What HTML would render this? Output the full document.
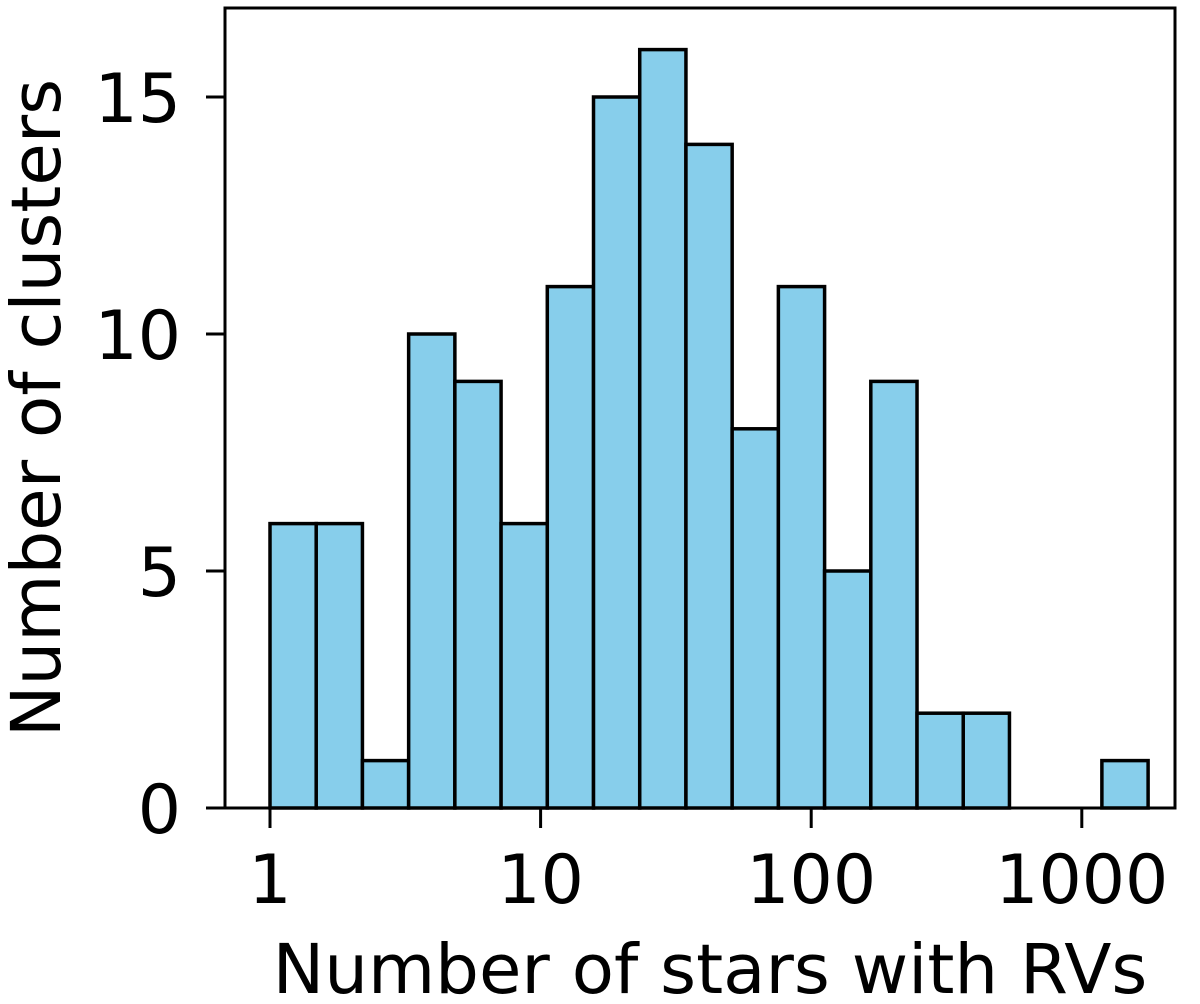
<!DOCTYPE html>
<html><head><meta charset="utf-8"><style>
html,body{margin:0;padding:0;background:#fff;}
svg text{font-family:"DejaVu Sans","Liberation Sans",sans-serif;fill:#000;}
</style></head><body>
<svg id="chart" width="1200" height="999" xmlns="http://www.w3.org/2000/svg">
<g id="bars"></g>
<g id="axes"></g>
</svg>
<script>
const counts = [6,6,1,10,9,6,11,15,16,14,8,11,5,9,2,2,0,0,1];
const binMin = 1;
const binMax = 1758;
const yTicks = [0,5,10,15];
const xTicks = [1,10,100,1000];
const xTickLabels = ["1","10","100","1000"];

const L=225,R=1175,T=8,B=808;
const xs = v => 270 + (Math.log10(v)-0)*270.6;
const ys = v => B - v*47.4;
const NS="http://www.w3.org/2000/svg";
function mk(tag,attrs,parent){const e=document.createElementNS(NS,tag);for(const k in attrs)e.setAttribute(k,attrs[k]);parent.appendChild(e);return e;}
const bars=document.getElementById('bars'), axes=document.getElementById('axes');
const n=counts.length, lmin=Math.log10(binMin), lmax=Math.log10(binMax);
counts.forEach((c,i)=>{
  if(c<=0) return;
  const e0=Math.pow(10,lmin+(lmax-lmin)*i/n), e1=Math.pow(10,lmin+(lmax-lmin)*(i+1)/n);
  const x0=xs(e0), x1=xs(e1);
  const r=mk('rect',{x:x0,y:ys(c),width:x1-x0,height:ys(0)-ys(c),fill:'#87ceeb',stroke:'#000','stroke-width':3.5},bars);
  
  
});
const frame=mk('rect',{x:L,y:T,width:R-L,height:B-T,fill:'none',stroke:'#000','stroke-width':3},axes);


yTicks.forEach(v=>{
  const y=ys(v);
  mk('line',{x1:L-19,x2:L,y1:y,y2:y,stroke:'#000','stroke-width':3},axes);
  const t=mk('text',{x:L-44,y:y+25,'font-size':68,'text-anchor':'end'},axes);
  t.textContent=v;
  
  
});
xTicks.forEach((v,i)=>{
  const x=xs(v);
  mk('line',{x1:x,x2:x,y1:B,y2:B+20,stroke:'#000','stroke-width':3},axes);
  const t=mk('text',{x:x,y:903,'font-size':68,'text-anchor':'middle'},axes);
  t.textContent=xTickLabels[i];
  
  
});
const xl=mk('text',{x:710,y:993,'font-size':69,'text-anchor':'middle'},axes);
xl.textContent='Number of stars with RVs';


const yl=mk('text',{x:0,y:0,'font-size':69,'text-anchor':'middle',transform:'translate(60,408) rotate(-90)'},axes);
yl.textContent='Number of clusters';


</script>
</body></html>
